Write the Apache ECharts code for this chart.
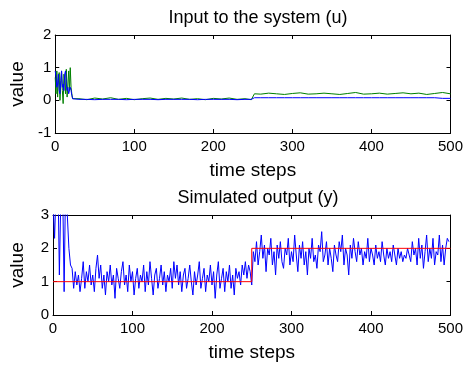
<!DOCTYPE html>
<html>
<head>
<meta charset="utf-8">
<script src="https://cdn.jsdelivr.net/npm/echarts@6/dist/echarts.min.js"></script>
<style>
  html, body { margin: 0; padding: 0; background: #fff; }
  #main { width: 466px; height: 366px; }
</style>
</head>
<body>
<div id="main"></div>
<script>
// x axis ticks (both plots)
var xTicks = [0, 100, 200, 300, 400, 500];

// input to the system (u): sampled steps, blue and green channels
var uSteps = [0,1,2,3,4,5,6,7,8,9,10,11,12,13,14,15,16,17,18,19,20,21,22,
  30,40,50,60,70,80,90,100,110,120,130,140,150,160,170,180,190,200,210,220,230,240,
  248,252,
  260,270,280,290,300,310,320,330,340,350,360,370,380,390,400,410,420,430,440,450,460,470,480,490,500];
var uBlue = [0.9,0.7,0.4,0.5,0.8,0.3,0.2,0.6,0.9,0.4,0.5,0.3,0.8,0.9,0.5,0.3,0.4,0.2,0.3,0.4,0.3,0.15,0.05,
  0.03,0.03,0.02,0.03,0.03,0.03,0.02,0.03,0.03,0.03,0.02,0.03,0.03,0.03,0.03,0.02,0.03,0.03,0.03,0.03,0.02,0.03,
  0.03,0.08,
  0.08,0.08,0.08,0.08,0.08,0.08,0.08,0.08,0.08,0.08,0.08,0.08,0.08,0.08,0.08,0.08,0.08,0.08,0.08,0.08,0.08,0.08,0.08,0.06,0.06];
var uGreen = [0.7,0.2,0.9,0.1,0.6,0.85,0.0,0.5,0.9,0.3,-0.1,0.8,0.6,0.2,0.95,0.1,0.5,0.9,0.3,1.0,0.4,0.2,0.05,
  0.05,0.02,0.07,0.04,0.08,0.03,0.06,0.02,0.05,0.07,0.03,0.06,0.04,0.07,0.03,0.05,0.02,0.06,0.04,0.07,0.03,0.05,
  0.02,0.2,
  0.19,0.22,0.2,0.18,0.21,0.23,0.19,0.2,0.22,0.2,0.18,0.21,0.24,0.19,0.2,0.22,0.19,0.21,0.23,0.2,0.22,0.18,0.21,0.24,0.2];

// simulated output (y), every 2nd step from 0 to 498
var yStep = 2;
var yOut = [3.4,2.3,3.9,4.5,1.2,3.7,4.1,0.7,4.3,3.0,
  2.0,1.5,1.4,0.8,1.3,0.9,1.2,0.7,1.1,1.6,0.8,1.3,1.0,1.5,0.9,
  1.2,0.7,1.4,1.8,1.1,1.5,0.8,1.2,0.6,1.3,1.0,1.5,0.9,1.2,0.5,1.4,1.1,0.8,1.3,1.6,0.9,1.2,0.7,1.5,1.0,
  1.3,0.6,1.1,1.4,0.8,1.2,1.0,1.5,0.7,1.3,0.9,1.6,1.1,0.6,1.2,1.4,0.8,1.1,1.5,0.9,1.3,0.7,1.2,1.0,1.4,
  0.8,1.6,1.1,1.5,0.9,1.3,0.7,1.2,1.4,0.8,1.1,1.5,1.0,0.6,1.3,0.9,1.2,1.6,0.8,1.1,1.4,0.7,1.2,1.0,1.5,
  0.9,1.3,0.5,1.2,1.6,0.8,1.1,1.4,0.7,1.3,1.0,1.5,0.8,1.2,0.6,1.4,1.1,1.3,0.9,1.5,1.2,1.6,1.1,1.5,1.3,
  0.9,1.9,1.6,2.2,1.5,1.9,2.4,1.7,2.1,1.3,2.0,1.8,2.3,1.5,1.9,1.2,2.1,1.7,2.2,1.6,1.4,2.0,1.8,2.3,1.5,
  1.9,1.6,2.4,1.8,1.3,2.1,1.7,2.2,1.5,1.9,1.2,2.0,1.7,2.3,1.6,1.8,1.4,2.1,1.9,2.5,1.6,1.8,2.2,1.5,2.0,
  1.7,1.3,2.1,1.8,1.6,2.2,1.9,2.4,1.5,2.0,1.8,1.2,2.1,1.7,2.3,1.9,1.6,2.2,1.8,2.0,1.5,1.9,1.7,2.3,1.6,
  2.0,1.8,1.5,2.1,1.7,1.9,1.6,2.2,1.8,1.5,2.0,1.7,1.9,1.6,2.1,1.8,1.5,2.0,1.7,1.9,1.6,1.8,1.7,2.0,1.8,
  1.6,2.2,1.8,2.0,1.5,2.3,1.7,2.1,1.4,1.9,2.4,1.6,2.0,1.7,2.3,1.5,1.9,1.8,2.4,1.6,2.1,1.5,2.0,2.3,2.2];

// reference (setpoint) for the output
var refSteps = [0, 250, 250, 500];
var refVals = [1, 1, 2, 2];

var font = 'Liberation Sans, Arial, sans-serif';

function pairs(xs, ys) {
  return xs.map(function (x, i) { return [x, ys[i]]; });
}
var yOutData = yOut.map(function (v, i) { return [i * yStep, v]; });

function xAx(gi, pos, showLabel, name) {
  return {
    type: 'value', gridIndex: gi, position: pos, min: 0, max: 500, interval: 100,
    axisLine: { show: true, onZero: false, lineStyle: { color: '#000', width: 1 } },
    axisTick: { show: true, inside: true, length: 4, lineStyle: { color: '#000' } },
    axisLabel: { show: showLabel, color: '#000', fontFamily: font, fontSize: 15, margin: 6 },
    splitLine: { show: false },
    name: name || '', nameLocation: 'middle', nameGap: 28,
    nameTextStyle: { color: '#000', fontFamily: font, fontSize: 19 }
  };
}
function yAx(gi, pos, min, max, showLabel, name) {
  return {
    type: 'value', gridIndex: gi, position: pos, min: min, max: max, interval: 1,
    axisLine: { show: true, onZero: false, lineStyle: { color: '#000', width: 1 } },
    axisTick: { show: true, inside: true, length: 4, lineStyle: { color: '#000' } },
    axisLabel: { show: showLabel, color: '#000', fontFamily: font, fontSize: 15, margin: 4 },
    splitLine: { show: false },
    name: name || '', nameLocation: 'middle', nameGap: 26, nameRotate: 90,
    nameTextStyle: { color: '#000', fontFamily: font, fontSize: 19 }
  };
}

var myChart = echarts.init(document.getElementById('main'), null, { renderer: 'canvas' });
var option = {
  backgroundColor: '#fff',
  animation: false,
  title: [
    { text: 'Input to the system (u)', left: 253, top: 4, textAlign: 'center',
      textStyle: { color: '#000', fontFamily: font, fontSize: 18, fontWeight: 'normal' } },
    { text: 'Simulated output (y)', left: 253, top: 184, textAlign: 'center',
      textStyle: { color: '#000', fontFamily: font, fontSize: 18, fontWeight: 'normal' } }
  ],
  grid: [
    { left: 53, right: 13, top: 35, height: 98 },
    { left: 53, right: 13, top: 215, height: 100 }
  ],
  xAxis: [
    xAx(0, 'bottom', true, 'time steps'),
    xAx(0, 'top', false),
    xAx(1, 'bottom', true, 'time steps'),
    xAx(1, 'top', false)
  ],
  yAxis: [
    yAx(0, 'left', -1, 2, true, 'value'),
    yAx(0, 'right', -1, 2, false),
    yAx(1, 'left', 0, 3, true, 'value'),
    yAx(1, 'right', 0, 3, false)
  ],
  series: [
    { type: 'line', xAxisIndex: 0, yAxisIndex: 0, data: pairs(uSteps, uGreen), showSymbol: false,
      lineStyle: { color: '#008000', width: 1 }, clip: true },
    { type: 'line', xAxisIndex: 0, yAxisIndex: 0, data: pairs(uSteps, uBlue), showSymbol: false,
      lineStyle: { color: '#0000ff', width: 1 }, clip: true },
    { type: 'line', xAxisIndex: 2, yAxisIndex: 2, data: yOutData, showSymbol: false,
      lineStyle: { color: '#0000ff', width: 1 }, clip: true },
    { type: 'line', xAxisIndex: 2, yAxisIndex: 2, data: pairs(refSteps, refVals), showSymbol: false,
      lineStyle: { color: '#ff0000', width: 1 }, clip: true }
  ]
};
myChart.setOption(option);
</script>
</body>
</html>
